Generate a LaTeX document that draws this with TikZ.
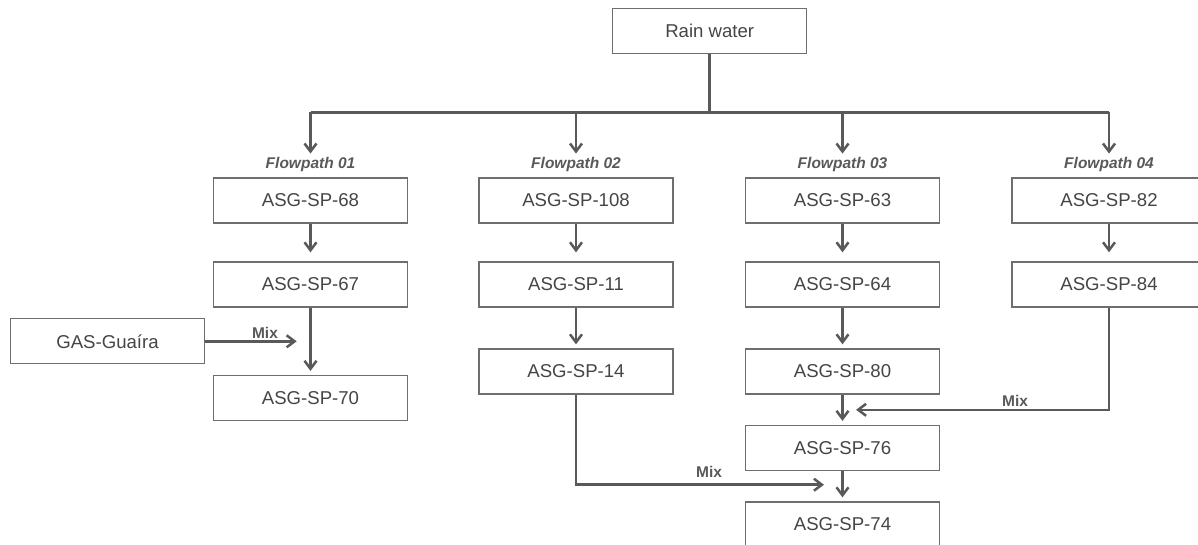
\documentclass[tikz,border=0pt]{standalone}
\usepackage{fontspec}
\setmainfont{Liberation Sans}
\usetikzlibrary{arrows.meta}
\definecolor{linegray}{HTML}{595959}
\definecolor{boxgray}{HTML}{6E6E6E}
\definecolor{textgray}{HTML}{454545}
\begin{document}
\begin{tikzpicture}[x=1pt, y=-1pt,
        site/.style={draw=boxgray, line width=1.3pt, fill=white, minimum width=194pt,
            minimum height=45pt, inner sep=0pt, text=textgray, font=\fontsize{18.6}{22}\selectfont},
        pipe/.style={draw=linegray, line width=2.5pt},
        flow/.style={pipe, -{Straight Barb[length=8pt,width=12pt]}, shorten >=4pt},
        tag/.style={text=linegray, inner sep=0pt, font=\fontsize{15.5}{18}\selectfont\bfseries\itshape},
        mix/.style={text=linegray, inner sep=0pt, font=\fontsize{15.5}{18}\selectfont\bfseries}]
        \useasboundingbox (0,0) rectangle (1198,545);

        % Source
        \node[site] (rain) at (709.7,31) {Rain water};

        % Flowpath 01
        \node[site] (sp68) at (310.5,200.5) {ASG-SP-68};
        \node[site] (sp67) at (310.5,284.5) {ASG-SP-67};
        \node[site] (sp70) at (310.5,398) {ASG-SP-70};
        \node[site] (gas) at (107.5,341.3) {GAS-Guaíra};

        % Flowpath 02
        \node[site] (sp108) at (576,200.5) {ASG-SP-108};
        \node[site] (sp11) at (576,284.5) {ASG-SP-11};
        \node[site] (sp14) at (576,371.5) {ASG-SP-14};

        % Flowpath 03
        \node[site] (sp63) at (842.5,200.5) {ASG-SP-63};
        \node[site] (sp64) at (842.5,284.5) {ASG-SP-64};
        \node[site] (sp80) at (842.5,371.5) {ASG-SP-80};
        \node[site] (sp76) at (842.5,448) {ASG-SP-76};
        \node[site] (sp74) at (842.5,524.5) {ASG-SP-74};

        % Flowpath 04
        \node[site] (sp82) at (1109,200.5) {ASG-SP-82};
        \node[site] (sp84) at (1109,284.5) {ASG-SP-84};

        % Distribution of rain water
        \foreach \n/\x in {1/310.5, 2/576, 3/842.5, 4/1109} {
            \coordinate (b\n) at (\x,112.3);
            \node[tag, anchor=base] (fp\n) at (\x,169) {Flowpath 0\n};
            \draw[flow] (b\n) -- (fp\n);
        }
        \coordinate (hub) at (rain.south |- b1);
        \draw[pipe] (rain) -- (hub);
        \draw[pipe] (b1) -- (b4);

        % Arrows along the flowpaths
        \draw[flow, shorten >=9pt] (sp68) -- (sp67);
        \draw[flow] (sp67) -- (sp70);
        \draw[flow, shorten >=9pt] (sp108) -- (sp11);
        \draw[flow] (sp11) -- (sp14);
        \draw[flow, shorten >=9pt] (sp63) -- (sp64);
        \draw[flow] (sp64) -- (sp80);
        \draw[flow] (sp80) -- (sp76);
        \draw[flow] (sp76) -- (sp74);
        \draw[flow, shorten >=9pt] (sp82) -- (sp84);

        % Mixing
        \coordinate (m1) at (296.7,341.3);
        \coordinate (m2) at (824,484.7);
        \coordinate (m4) at (856,409.8);
        \draw[flow, shorten >=0pt] (gas) -- (m1);
        \draw[flow, shorten >=0pt] (sp14) |- (m2);
        \draw[flow, shorten >=0pt] (sp84) |- (m4);
        \node[mix] (mixA) at (265,333) {Mix};
        \node[mix] (mixB) at (709,472) {Mix};
        \node[mix] (mixC) at (1015,401) {Mix};
    \end{tikzpicture}
\end{document}
